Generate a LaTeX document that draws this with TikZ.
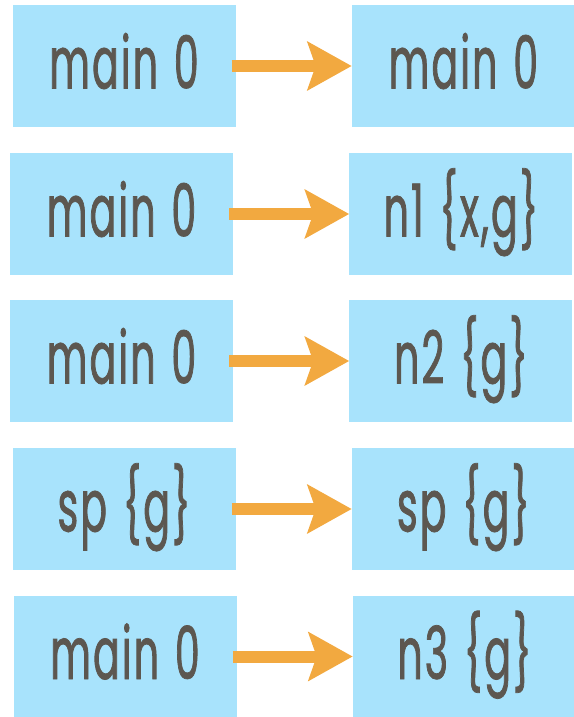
\documentclass[tikz,border=0pt]{standalone}
\usepackage{fontspec}
\usepackage{xcolor}
\usepackage{tikz}
\usetikzlibrary{arrows.meta,positioning}
\newfontfamily\condfont[FakeStretch=0.54,FakeBold=1,LetterSpace=3,WordSpace=1.25]{Poppins}
\definecolor{boxblue}{HTML}{A8E3FC}
\definecolor{labelgray}{HTML}{5C5750}
\definecolor{arrorange}{HTML}{F2A940}
\begin{document}
\begin{tikzpicture}[
x=1pt, y=-1pt,
node distance=116pt,
box/.style={fill=boxblue, minimum width=223pt, minimum height=122pt, inner sep=0pt, text=labelgray, font=\condfont\fontsize{73}{80}\selectfont, text height=45pt, text depth=0pt},
arr/.style={-{Stealth[length=44pt, width=48pt, inset=8pt]}, line width=12pt, draw=arrorange, shorten <=-4pt}
]
\useasboundingbox (0,0) rectangle (573,717);
\node[box] (src1) at (124,66) {main 0};
\node[box, right=of src1] (dst1) {main 0};
\node[box] (src2) at (121.5,214) {main 0};
\node[box, right=of src2] (dst2) {n1 \{x,g\}};
\node[box] (src3) at (121.5,361) {main 0};
\node[box, right=of src3] (dst3) {n2 \{g\}};
\node[box] (src4) at (124,509) {sp \{g\}};
\node[box, right=of src4] (dst4) {sp \{g\}};
\node[box] (src5) at (125,656.5) {main 0};
\node[box, right=of src5] (dst5) {n3 \{g\}};
\draw[arr] (src1) -- (dst1);
\draw[arr] (src2) -- (dst2);
\draw[arr] (src3) -- (dst3);
\draw[arr] (src4) -- (dst4);
\draw[arr] (src5) -- (dst5);
\end{tikzpicture}
\end{document}
